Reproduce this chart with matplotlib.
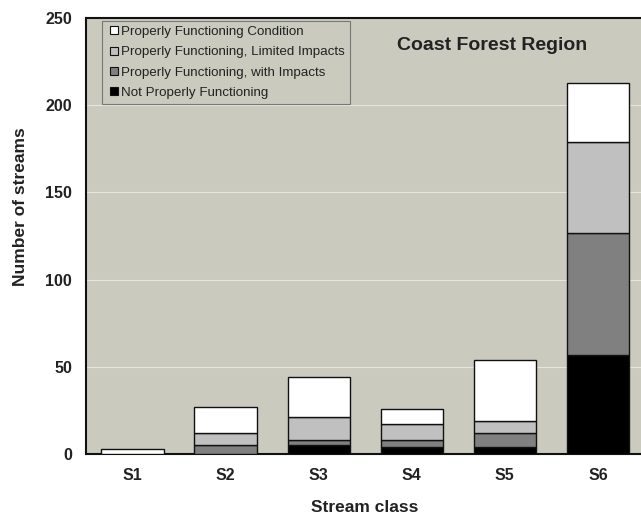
import matplotlib
matplotlib.use("Agg")
import matplotlib.pyplot as plt
from matplotlib.lines import Line2D
import numpy as np

plt.rcParams['font.family'] = ['Liberation Sans', 'DejaVu Sans']

categories = ["S1", "S2", "S3", "S4", "S5", "S6"]
not_proper = [0, 0, 5, 4, 4, 57]
pf_impacts = [0, 5, 3, 4, 8, 70]
pf_limited = [0, 7, 13, 9, 7, 52]
pf_condition = [3, 15, 23, 9, 35, 34]
series_labels = ["Not Properly Functioning",
                 "Properly Functioning, with Impacts",
                 "Properly Functioning, Limited Impacts",
                 "Properly Functioning Condition"]
colors = ["#000000", "#808080", "#C0C0C0", "#FFFFFF"]
yticks = [0, 50, 100, 150, 200, 250]

bg = "#CACBBE"
txt = "#222222"

fig = plt.figure(figsize=(6.41, 5.16), dpi=100)
ax_w_px = 644.5 - 86
ax_h_px = 454 - 18
ax = fig.add_axes([86/641, 62/516, ax_w_px/641, ax_h_px/516])
ax.set_facecolor(bg)

x = np.arange(len(categories))
bottom = np.zeros(len(categories))
for vals, col, lab in zip([not_proper, pf_impacts, pf_limited, pf_condition], colors, series_labels):
    vals = np.array(vals, dtype=float)
    ax.bar(x, vals, width=0.67, bottom=bottom, color=col, edgecolor="#111111",
           linewidth=1.0, label=lab, zorder=3)
    bottom += vals

ax.set_xlim(-0.5, 5.5)
ax.set_ylim(0, 250)
ax.set_yticks(yticks)
ax.set_xticks(x)
ax.set_xticklabels(categories)
ax.tick_params(axis='both', length=0, labelsize=11.5, colors=txt, pad=10)
for lab in ax.get_xticklabels() + ax.get_yticklabels():
    lab.set_fontweight('bold')
ax.yaxis.grid(True, color="#E6E6DE", linewidth=0.8, zorder=0)
ax.set_axisbelow(True)
for s in ['left', 'bottom', 'top']:
    ax.spines[s].set_color("#111111")
    ax.spines[s].set_linewidth(1.5)
ax.spines['right'].set_visible(False)

ax.set_ylabel("Number of streams", fontsize=12.5, fontweight='bold', color=txt)
ax.set_xlabel("Stream class", fontsize=12.5, fontweight='bold', color=txt)
ax.yaxis.set_label_coords((20 - 86) / ax_w_px, (454 - 207) / ax_h_px)
ax.yaxis.label.set_va('center')
ax.xaxis.set_label_coords((365 - 86) / ax_w_px, (454 - 508) / ax_h_px)
ax.xaxis.label.set_va('center')

fig.text(492/641, 1-45/516, "Coast Forest Region", fontsize=14, fontweight='bold',
         color=txt, ha='center', va='center')

handles = [Line2D([], [], linestyle='none', marker='s', markersize=5.8,
                  markerfacecolor=c, markeredgecolor='#111111', markeredgewidth=0.8)
           for c in colors]
leg = ax.legend(handles[::-1], series_labels[::-1], loc='upper left',
                bbox_to_anchor=(16/ax_w_px, 1-3/ax_h_px), fontsize=9.6, frameon=True,
                facecolor=bg, edgecolor="#777777", framealpha=1, fancybox=False,
                handlelength=1.1, handletextpad=0.0,
                labelspacing=0.6, borderpad=0.35, borderaxespad=0)
leg.get_frame().set_linewidth(0.8)
for t in leg.get_texts():
    t.set_color(txt)

fig.savefig("out.png", dpi=100)
